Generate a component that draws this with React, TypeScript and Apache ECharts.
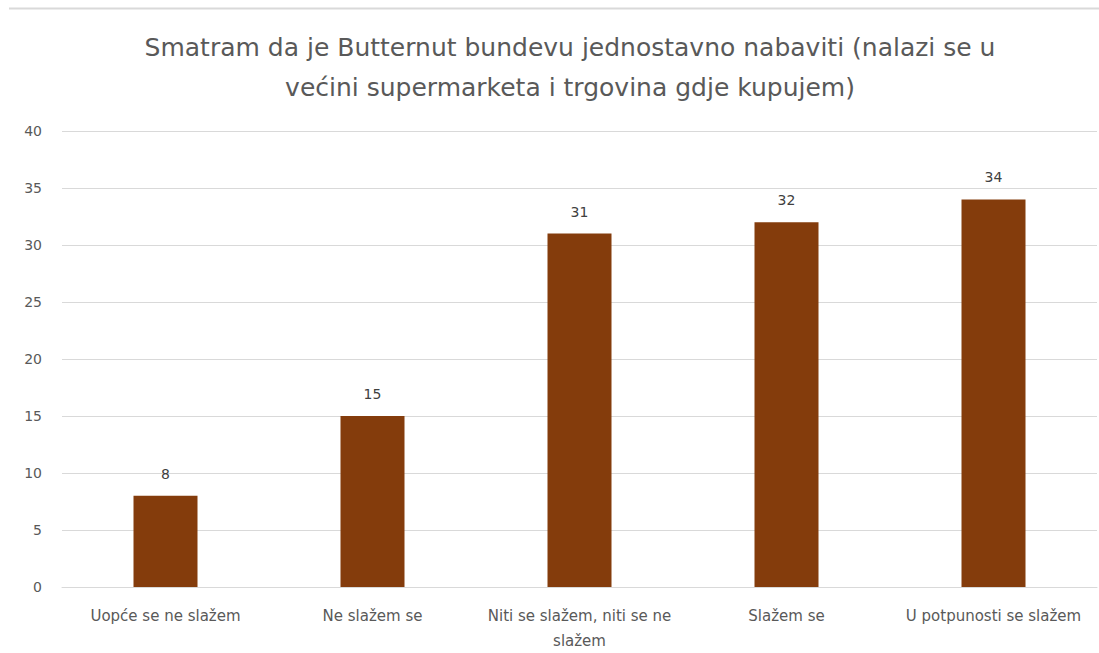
import React, { useEffect, useRef } from "react";
import * as echarts from "echarts";

const title = "Smatram da je Butternut bundevu jednostavno nabaviti (nalazi se u\nvećini supermarketa i trgovina gdje kupujem)";
const categories = [
  "Uopće se ne slažem",
  "Ne slažem se",
  "Niti se slažem, niti se ne slažem",
  "Slažem se",
  "U potpunosti se slažem",
];
const values = [8, 15, 31, 32, 34];

export default function App() {
  const ref = useRef<HTMLDivElement>(null);
  useEffect(() => {
    if (!ref.current) return;
    const chart = echarts.init(ref.current, null, { renderer: "svg" });
    const font = "'DejaVu Sans', 'Open Sans', sans-serif";
    chart.setOption({
      animation: false,
      backgroundColor: "#ffffff",
      title: {
        text: title,
        left: 565,
        textAlign: "center",
        top: 22,
        textStyle: {
          fontFamily: font,
          fontSize: 25,
          fontWeight: "normal",
          color: "#595959",
          lineHeight: 40,
        },
      },
      graphic: [
        {
          type: "line",
          shape: { x1: 9, y1: 8.5, x2: 1099, y2: 8.5 },
          style: { stroke: "#d9d9d9", lineWidth: 2 },
        },
      ],
      grid: { left: 62, right: 2, top: 131, bottom: 59, containLabel: false },
      xAxis: {
        type: "category",
        data: categories,
        axisLine: { lineStyle: { color: "#d9d9d9", width: 1 } },
        axisTick: { show: false },
        axisLabel: {
          fontFamily: font,
          fontSize: 15,
          color: "#595959",
          margin: 16,
          lineHeight: 25,
          interval: 0,
          formatter: (v: string) =>
            v === "Niti se slažem, niti se ne slažem" ? "Niti se slažem, niti se ne\nslažem" : v,
        },
      },
      yAxis: {
        type: "value",
        min: 0,
        max: 40,
        interval: 5,
        axisLine: { show: false },
        axisTick: { show: false },
        splitLine: { lineStyle: { color: "#d9d9d9", width: 1 } },
        axisLabel: {
          fontFamily: font,
          fontSize: 14,
          color: "#595959",
          margin: 20,
        },
      },
      series: [
        {
          type: "bar",
          data: values,
          barWidth: 64,
          itemStyle: { color: "#843c0c" },
          label: {
            show: true,
            position: "top",
            distance: 15,
            fontFamily: font,
            fontSize: 14,
            color: "#404040",
          },
        },
      ],
    });
    return () => chart.dispose();
  }, []);
  return (
    <div
      ref={ref}
      style={{ position: "absolute", left: 0, top: 0, width: 1099, height: 653, overflow: "hidden" }}
    />
  );
}
